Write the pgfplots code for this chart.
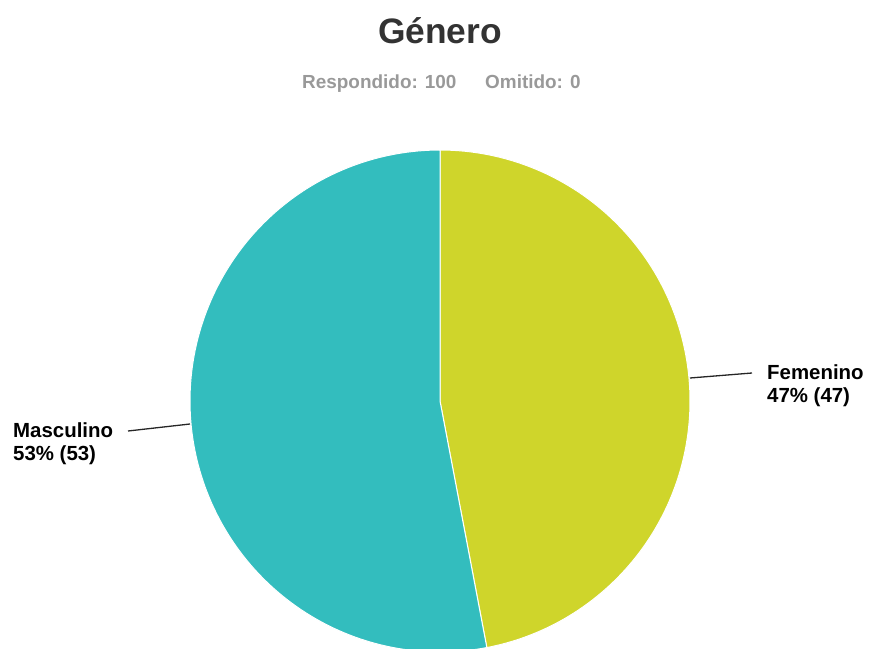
\documentclass[border=0pt]{standalone}
\usepackage{pgfplots}
\pgfplotsset{compat=1.18}
\usepackage{fontspec}
\setmainfont{Liberation Sans}
\definecolor{tealc}{HTML}{33BDBE}
\definecolor{limec}{HTML}{CFD52B}
\definecolor{titlec}{HTML}{333333}
\definecolor{subc}{HTML}{999999}
% data: Femenino 47, Masculino 53
\def\fem{47}
\def\mas{53}
\pgfmathsetmacro{\femstart}{90-\fem/(\fem+\mas)*360}
\pgfmathsetmacro{\masend}{90+\mas/(\fem+\mas)*360}
\begin{document}
\begin{tikzpicture}
\begin{axis}[scale only axis, width=877bp, height=649bp,
  xmin=0, xmax=877, ymin=0, ymax=649, y dir=reverse, hide axis, clip=true]
\addplot[fill=limec, draw=white, line width=1bp, domain=\femstart:90, samples=150, variable=\t]
  ({440+250*cos(t)},{401-251*sin(t)}) -- (axis cs:440,401) -- cycle;
\addplot[fill=tealc, draw=white, line width=1bp, domain=90:\masend, samples=150, variable=\t]
  ({440+250*cos(t)},{401-251*sin(t)}) -- (axis cs:440,401) -- cycle;
\draw[black!85, line width=1.3bp] (axis cs:690,378) -- (axis cs:752,373);
\draw[black!85, line width=1.3bp] (axis cs:128,431) -- (axis cs:190,424);
\node[anchor=base west, inner sep=0pt, font=\fontsize{20.5}{24}\selectfont\bfseries] at (axis cs:767,379) {Femenino};
\node[anchor=base west, inner sep=0pt, font=\fontsize{20.5}{24}\selectfont\bfseries] at (axis cs:767,402) {47\% (47)};
\node[anchor=base west, inner sep=0pt, font=\fontsize{20.5}{24}\selectfont\bfseries] at (axis cs:13,437) {Masculino};
\node[anchor=base west, inner sep=0pt, font=\fontsize{20.5}{24}\selectfont\bfseries] at (axis cs:13,460) {53\% (53)};
\node[anchor=base, inner sep=0pt, text=titlec, font=\fontsize{35.5}{40}\selectfont\bfseries] at (axis cs:440,44) {Género};
\node[anchor=base west, inner sep=0pt, text=subc, font=\fontsize{19}{22}\selectfont\bfseries] at (axis cs:302,89) {Respondido: 100};
\node[anchor=base west, inner sep=0pt, text=subc, font=\fontsize{19}{22}\selectfont\bfseries] at (axis cs:485,89) {Omitido: 0};
\end{axis}
\path (current axis.south west) rectangle (current axis.north east);
\end{tikzpicture}
\end{document}
